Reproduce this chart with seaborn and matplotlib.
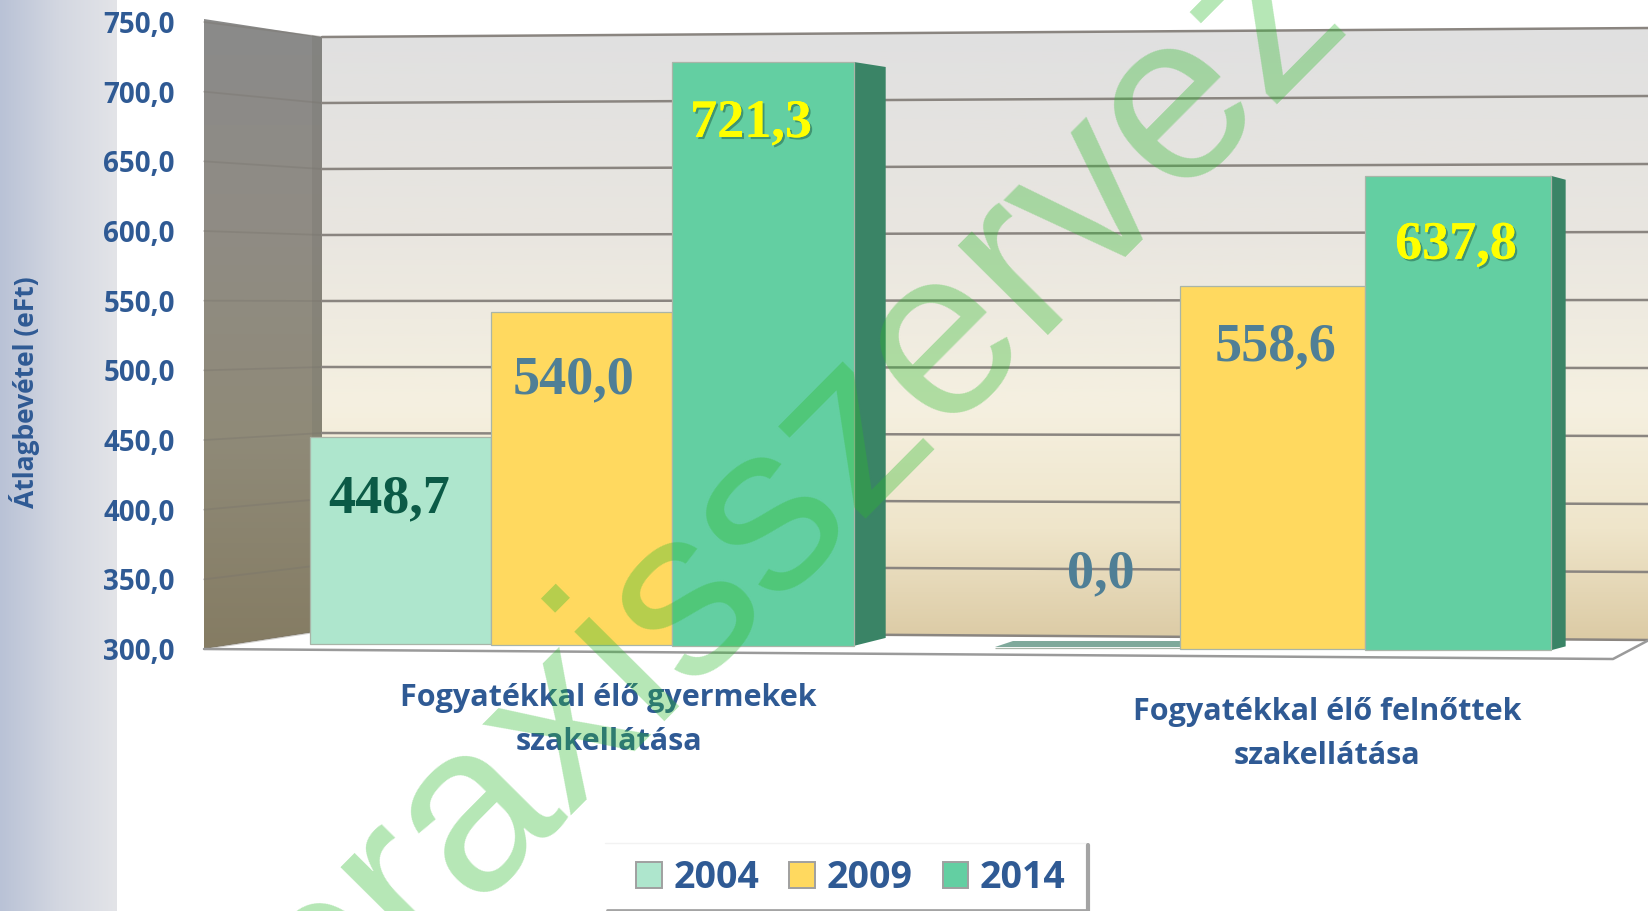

import numpy as np
import pandas as pd
import seaborn as sns
import matplotlib
matplotlib.use("Agg")
import matplotlib.pyplot as plt
import matplotlib.patheffects as pe
from matplotlib.colors import LinearSegmentedColormap
from matplotlib.patches import Polygon
from matplotlib.transforms import Affine2D, ScaledTranslation

W, H = 1649, 911

# adatok
categories = ["Fogyatékkal élő gyermekek\nszakellátása", "Fogyatékkal élő felnőttek\nszakellátása"]
years = ["2004", "2009", "2014"]
values_2004 = [448.7, 0.0]
values_2009 = [540.0, 558.6]
values_2014 = [721.3, 637.8]
y_ticks = [300, 350, 400, 450, 500, 550, 600, 650, 700, 750]
bar_colors = ["#aee6cd", "#ffd95f", "#63cfa2"]
label_colors = [["#0b5a46", "#4f7f96"], ["#4f7f96", "#4f7f96"], ["#ffff00", "#ffff00"]]
label_offsets = [[(-11, -62), (13, 74)], [(-8, -68), (3, -62)], [(-12, -62), (-2, -70)]]
BLUE = "#2f5a94"

sns.set_style("white")
plt.rcParams["font.family"] = ["Open Sans", "DejaVu Sans"]

df = pd.DataFrame({
    "kat": categories * 3,
    "ev": [y for y in years for _ in categories],
    "ertek": values_2004 + values_2009 + values_2014,
})

fig = plt.figure(figsize=(W / 100, H / 100), dpi=100, facecolor="white")

# háttér rajz, pixel koordinátákban
bg = fig.add_axes([0, 0, 1, 1], zorder=0)
bg.axis("off")


def gradient(ax, box, stops, horizontal=False, clip=None):
    cmap = LinearSegmentedColormap.from_list("g", stops)
    grad = np.linspace(0, 1, 256).reshape(1, -1) if horizontal else np.linspace(0, 1, 256).reshape(-1, 1)
    im = ax.imshow(grad, cmap=cmap, extent=box, aspect="auto", origin="upper" if not horizontal else "lower", zorder=1)
    if clip is not None:
        poly = Polygon(clip, transform=ax.transData, fill=False, lw=0)
        ax.add_patch(poly)
        im.set_clip_path(poly)


gradient(bg, (0, 117, H, 0), ["#b9c2d6", "#d3d7e1", "#e3e4e8"], horizontal=True)
gradient(bg, (204, 322, 649, 19), ["#8a8a8a", "#908c84", "#8f8a78", "#857c63"],
         clip=[(204, 19), (322, 37), (322, 631), (204, 649)])
gradient(bg, (322, W, 640, 28),
         [(0, "#e0e0e0"), (0.33, "#e9e6e0"), (0.62, "#f5f0e0"), (0.82, "#efe5ca"), (1, "#dccba5")],
         clip=[(322, 37), (W, 28), (W, 640), (322, 631)])
bg.fill([312, 322, 322, 312], [35, 37, 631, 633], color="#6f6f68", alpha=0.25, lw=0, zorder=2)
bg.fill([204, 322, W, W, 1613], [649, 631, 640, 640, 659], color="white", lw=0, zorder=2)

for v in y_ticks:
    y_left = 649 - (v - 300) * 1.3933
    y_mid = 37 + (750 - v) * 1.32
    y_right = 28 + (750 - v) * 1.36
    bg.plot([204, 322], [y_left, y_mid], color="#77736c", lw=1.3, alpha=0.35, zorder=3)
    bg.plot([322, W], [y_mid, y_right], color="#8a8580", lw=1.8, zorder=3)

bg.plot([204, 1613, W], [649, 659, 640], color="#9a9a9a", lw=1.8, zorder=3)

# a jelmagyarázat kerete külön, mert felül-alul nem szimmetrikus
bg.fill([605, 1086, 1086, 605], [843, 843, 909, 909], color="white", lw=0, zorder=3)
bg.plot([605, 1086], [843, 843], color="#f2f2f2", lw=1, zorder=3)
bg.plot([1088, 1088], [845, 911], color="#a4a4a4", lw=3, zorder=3)
bg.plot([607, 1088], [910, 910], color="#a4a4a4", lw=2, zorder=3)
bg.set_xlim(0, W)
bg.set_ylim(H, 0)

# fő tengely, a sávok a seabornból jönnek
ax = fig.add_axes([204 / W, (H - 649) / H, (W - 204) / W, (649 - 22) / H], zorder=1)
ax.patch.set_alpha(0)
sns.barplot(data=df, x="kat", y="ertek", hue="ev", order=categories, hue_order=years,
            palette=bar_colors, width=0.795, gap=0, saturation=1, errorbar=None, ax=ax,
            edgecolor="#a9b5a8", linewidth=0.9)
ax.set_ylim(300, 750)
ax.set_xlim(-0.545, 1.54)
sns.despine(ax=ax, left=True, bottom=True)
ax.set_yticks(y_ticks)
ax.set_yticklabels([f"{v:.1f}".replace(".", ",") for v in y_ticks], fontsize=20, fontweight="bold", color=BLUE)
ax.tick_params(axis="y", length=0, pad=21)
ax.tick_params(axis="x", length=0, pad=0)
ax.set_xlabel("")
ax.set_ylabel("Átlagbevétel (eFt)", fontsize=19, fontweight="bold", color=BLUE)
ax.yaxis.set_label_coords(-0.1135, 0.41)

# tengelyfeliratok eltolása
label_shift = [(27, -34), (52, -48)]
for lab, (dx, dy) in zip(ax.get_xticklabels(), label_shift):
    lab.set_fontsize(22)
    lab.set_fontweight("bold")
    lab.set_color(BLUE)
    lab.set_linespacing(1.6)
    lab.set_transform(lab.get_transform() + ScaledTranslation(dx / 100, dy / 100, fig.dpi_scale_trans))

# perspektíva: csoportonként kicsit más alap és lépték
y_scale = [1.386 / 1.3933, 1.405 / 1.3933]
x_scale = [544 / 551, 556 / 551]
x_shift = [0, -0.003]
side_dx = [32, 15]
side_top = [5, 4]
side_bottom = [8, 4]

for h, cont in enumerate(ax.containers):
    for g, bar in enumerate(cont):
        v = bar.get_height()
        bar.set_y(300)
        bar.set_height(max(v - 300, 0))
        bar.set_clip_on(False)
        cx = bar.get_x() + bar.get_width() / 2
        base_px = 643 + 0.0064 * (ax.transData.transform((cx, 300))[0] - 310)
        dy_data = (649 - base_px) / 1.3933
        tr = (Affine2D().translate(-g, -300).scale(x_scale[g], y_scale[g]).translate(g + x_shift[g], 300 + dy_data)
              + ax.transData)
        bar.set_transform(tr)
        x0, x1 = bar.get_x(), bar.get_x() + bar.get_width()
        top_v = max(v, 300)
        pts = tr.transform([(x0, 300), (x1, 300), (x1, top_v), (x0, top_v)])
        (xa, ya), (xb, yb), (xc, yc), _ = pts
        if v <= 300:
            # üres sáv csak a padlón látszik
            bg.fill([xa, xb, xb, xa + 18], [H - ya - 1, H - yb - 1, H - yb - 7, H - ya - 7],
                    color="#7fa99b", lw=0, zorder=4)
        elif h == 2:
            bg.fill([xb, xb + side_dx[g], xc + side_dx[g], xc],
                    [H - yb, H - yb - side_bottom[g], H - yc + side_top[g], H - yc],
                    color="#3a8466", lw=0, zorder=4)
        dx, dy = label_offsets[h][g]
        txt = ax.annotate(f"{v:.1f}".replace(".", ","), xy=((xa + xb) / 2, yc), xycoords="figure pixels",
                          xytext=(dx, dy), textcoords="offset pixels", ha="center", va="center",
                          fontsize=39, fontweight="bold", color=label_colors[h][g],
                          family=["Liberation Serif", "DejaVu Serif"], zorder=6)
        if label_colors[h][g] == "#ffff00":
            txt.set_path_effects([pe.withSimplePatchShadow(offset=(1.5, -1.5), shadow_rgbFace="#1f5c44", alpha=0.5),
                                  pe.Normal()])

# jelmagyarázat
handles, labels = ax.get_legend_handles_labels()
ax.legend_.remove()
leg = fig.legend(handles, labels, ncol=3, loc="center", bbox_to_anchor=(851 / W, (H - 878) / H),
                 prop={"family": "Open Sans", "weight": "bold", "size": 27}, labelcolor=BLUE,
                 handlelength=0.68, handleheight=0.68, handletextpad=0.32, columnspacing=0.795,
                 borderpad=0.2, borderaxespad=0, frameon=False)
leg.set_zorder(5)
for hd in leg.legend_handles:
    hd.set_edgecolor("#a0a0a0")
    hd.set_linewidth(1.4)

# vízjel
fig.text(1351 / W, (H - 15) / H, "praxisszervez", rotation=45.2, rotation_mode="anchor", ha="right", va="baseline",
         fontsize=172, family=["Liberation Sans", "DejaVu Sans"], color=(44 / 255, 186 / 255, 44 / 255),
         alpha=0.35, zorder=20)

fig.savefig("out.png", dpi=100)
